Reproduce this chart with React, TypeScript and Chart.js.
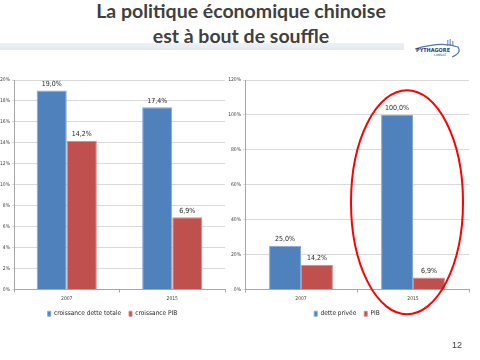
import React, { useEffect, useRef } from "react";
import { Chart, registerables } from "chart.js";
Chart.register(...registerables);

const years = ["2007", "2015"];
const leftSeriesNames = ["croissance dette totale", "croissance PIB"];
const detteTotale = [19.0, 17.4];
const pibLeft = [14.2, 6.9];
const rightSeriesNames = ["dette privée", "PIB"];
const dettePrivee = [25.0, 100.0];
const pibRight = [14.2, 6.9];
const leftMax = 20;
const leftStep = 2;
const rightMax = 120;
const rightStep = 20;

const BLUE = "#4F81BD";
const RED = "#C0504D";
const FONT = "'Liberation Sans Narrow', 'DejaVu Sans Condensed', Roboto, sans-serif";

const fmt = (v: number) => v.toFixed(1).replace(".", ",") + "%";

const valueLabels = {
  id: "valueLabels",
  afterDatasetsDraw(chart: any) {
    const ctx = chart.ctx;
    ctx.save();
    ctx.font = `7px ${FONT}`;
    ctx.fillStyle = "#262626";
    ctx.textAlign = "center";
    ctx.textBaseline = "bottom";
    chart.data.datasets.forEach((ds: any, i: number) => {
      const meta = chart.getDatasetMeta(i);
      meta.data.forEach((bar: any, j: number) => {
        ctx.fillText(fmt(ds.data[j]), bar.x, bar.y - 3);
      });
    });
    ctx.restore();
  },
};

const ellipse = {
  id: "ellipse",
  afterDraw(chart: any) {
    const x = chart.scales.x;
    const y = chart.scales.y;
    const cx = x.getPixelForValue(1) - 6;
    const cy = y.getPixelForValue(50);
    const ctx = chart.ctx;
    ctx.save();
    ctx.strokeStyle = "#FF0000";
    ctx.lineWidth = 2;
    ctx.beginPath();
    ctx.ellipse(cx, cy, 56, 112, 0, 0, Math.PI * 2);
    ctx.stroke();
    ctx.restore();
  },
};

function build(
  canvas: HTMLCanvasElement,
  names: string[],
  a: number[],
  b: number[],
  max: number,
  step: number,
  yWidth: number,
  padRight: number,
  extra: any[]
) {
  return new Chart(canvas, {
    type: "bar",
    data: {
      labels: years,
      datasets: [
        { label: names[0], data: a, backgroundColor: BLUE, borderColor: "#86A8D6", borderWidth: 1, barPercentage: 1, categoryPercentage: 0.57 },
        { label: names[1], data: b, backgroundColor: RED, borderColor: "#D98986", borderWidth: 1, barPercentage: 1, categoryPercentage: 0.57 },
      ],
    },
    options: {
      responsive: false,
      maintainAspectRatio: false,
      animation: false,
      layout: { padding: { top: 10, right: padRight, left: 0, bottom: 3 } },
      plugins: {
        legend: {
          position: "bottom",
          labels: { boxWidth: 3, boxHeight: 5, font: { size: 6.5, family: FONT }, color: "#262626", padding: 8 },
        },
        tooltip: { enabled: false },
      },
      scales: {
        x: {
          grid: { display: true, drawOnChartArea: false, offset: true, tickLength: 3, color: "#a6a6a6" },
          border: { color: "#a6a6a6" },
          ticks: { font: { size: 5, family: FONT }, color: "#404040", padding: 3 },
          afterFit: (s: any) => { s.height = 13; },
        },
        y: {
          min: 0,
          max,
          ticks: { stepSize: step, callback: (v: any) => v + "%", font: { size: 5, family: FONT }, color: "#404040", padding: 2 },
          grid: { color: "#d9d9d9", tickLength: 2 },
          border: { color: "#a6a6a6" },
          afterFit: (s: any) => { s.width = yWidth; },
        },
      },
    } as any,
    plugins: [valueLabels, ...extra],
  });
}

export default function App() {
  const leftRef = useRef<HTMLCanvasElement>(null);
  const rightRef = useRef<HTMLCanvasElement>(null);
  useEffect(() => {
    const c1 = build(leftRef.current!, leftSeriesNames, detteTotale, pibLeft, leftMax, leftStep, 14, 7, []);
    const c2 = build(rightRef.current!, rightSeriesNames, dettePrivee, pibRight, rightMax, rightStep, 20, 11, [ellipse]);
    return () => { c1.destroy(); c2.destroy(); };
  }, []);
  return (
    <div style={{ position: "absolute", left: 0, top: 0, width: 480, height: 360, background: "#fff", overflow: "hidden", fontFamily: "Lato, 'Open Sans', sans-serif" }}>
      <div style={{ position: "absolute", left: 0, top: -2, width: 480, textAlign: "center", color: "#404040", fontWeight: 700, fontSize: 19.5, lineHeight: "25px" }}>
        <div style={{ position: "absolute", left: 1, width: 480, top: 0 }}>La politique économique chinoise</div>
        <div style={{ position: "absolute", left: 1, width: 480, top: 25 }}>est à bout de souffle</div>
      </div>
      <div style={{ position: "absolute", left: 0, top: 43, width: 404, height: 7, background: "linear-gradient(to bottom, #eef1f7, #e3e8f1)" }} />
      <svg style={{ position: "absolute", left: 412, top: 38 }} width={52} height={24}>
        <rect x={35} y={2} width={1.5} height={6} fill="#8fa9d0" />
        <rect x={37.5} y={1} width={1.5} height={7} fill="#8fa9d0" />
        <rect x={40} y={3} width={1.5} height={5} fill="#8fa9d0" />
        <path d="M3 11 Q30 3 46 9 Q50 15 40 19" fill="none" stroke="#5576b5" strokeWidth={1.2} />
        <text x={4} y={13.5} fontSize={5.5} fontWeight={700} fill="#2b3f73" fontFamily="DejaVu Sans Condensed, sans-serif">PYTHAGORE</text>
        <text x={22} y={18} fontSize={3} fill="#2b3f73" fontFamily="DejaVu Sans Condensed, sans-serif">CONSULT</text>
      </svg>
      <canvas ref={leftRef} width={232} height={260} style={{ position: "absolute", left: 0, top: 70 }} />
      <canvas ref={rightRef} width={255} height={260} style={{ position: "absolute", left: 225, top: 70 }} />
      <div style={{ position: "absolute", left: 452, top: 340, fontSize: 9, color: "#404040", fontFamily: "'Liberation Sans', sans-serif" }}>12</div>
    </div>
  );
}
